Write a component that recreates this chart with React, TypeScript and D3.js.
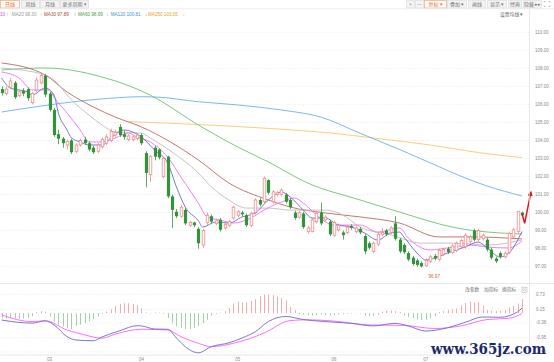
import React from "react";
import * as d3 from "d3";

// daily candles, index 0..119
const opens = [
  106.85, 106.6, 106.95, 107.2, 106.5, 106.75, 106.85, 106.1, 106.8, 107.2,
  107.6, 106.6, 105.7, 104.35, 104.1, 103.75, 104.0, 103.4, 103.75, 104.05,
  103.85, 103.6, 103.4, 103.65, 103.85, 104.0, 104.3, 104.75, 104.35, 104.05,
  104.05, 104.1, 104.3, 103.3, 102.1, 103.6, 103.5, 102.0, 103.1, 100.9,
  100.05, 99.8, 100.15, 99.3, 99.45, 99.1, 98.2, 99.45, 99.8, 99.4,
  99.6, 99.15, 99.3, 99.7, 99.85, 100.0, 99.85, 99.3, 100.0, 100.7,
  100.6, 101.8, 100.6, 101.0, 101.0, 101.0, 100.7, 100.0, 99.75, 99.95,
  98.95, 98.95, 99.5, 100.0, 99.6, 99.5, 98.75, 99.05, 98.9, 98.9,
  99.25, 98.95, 99.1, 98.7, 98.3, 97.85, 98.25, 98.8, 99.0, 98.9,
  99.4, 98.5, 98.2, 97.75, 97.5, 97.35, 97.2, 97.05, 97.3, 97.6,
  97.4, 97.7, 98.0, 97.8, 97.9, 98.1, 98.1, 98.4, 99.0, 98.5,
  98.55, 98.5, 97.95, 97.45, 97.75, 97.55, 97.8, 98.65, 98.95, 100.0,
];
const closes = [
  106.63, 106.85, 107.3, 106.4, 106.7, 106.6, 106.35, 106.6, 107.35, 107.6,
  106.55, 105.7, 104.3, 104.1, 103.85, 103.95, 103.35, 103.75, 104.0, 103.85,
  103.5, 103.35, 103.75, 104.05, 104.2, 104.5, 104.45, 104.3, 104.2, 104.25,
  104.2, 104.3, 103.85, 102.2, 103.1, 103.1, 103.05, 103.0, 100.9, 100.15,
  99.8, 100.3, 99.4, 99.45, 99.3, 98.3, 99.0, 99.85, 99.5, 99.55,
  99.05, 99.35, 99.5, 100.3, 100.05, 99.9, 99.3, 99.95, 100.7, 100.45,
  101.9, 101.1, 101.15, 101.1, 101.25, 100.6, 100.3, 99.7, 100.0, 99.2,
  99.15, 99.6, 99.95, 99.4, 99.75, 98.8, 99.45, 99.3, 98.75, 99.2,
  99.15, 99.15, 98.9, 97.85, 98.05, 98.3, 98.8, 98.9, 98.8, 99.15,
  98.55, 97.85, 97.8, 97.4, 97.15, 97.1, 97.02, 97.35, 97.55, 97.45,
  97.9, 97.95, 97.8, 98.15, 98.3, 98.45, 98.75, 98.65, 98.5, 99.0,
  98.75, 97.95, 97.5, 97.3, 97.55, 97.75, 98.85, 99.05, 100.05, 99.85,
];
const highs = [
  107.0, 107.0, 107.45, 107.3, 106.8, 106.9, 106.95, 106.7, 107.5, 107.75,
  107.7, 106.7, 105.8, 104.6, 104.2, 104.05, 104.1, 103.85, 104.1, 104.2,
  103.95, 103.7, 103.85, 104.15, 104.35, 104.65, 104.6, 104.9, 104.55, 104.35,
  104.3, 104.4, 104.4, 103.4, 103.2, 103.7, 103.55, 103.1, 103.15, 101.0,
  100.2, 100.45, 100.25, 99.55, 99.5, 99.2, 99.1, 100.0, 99.9, 99.65,
  99.7, 99.45, 99.6, 100.4, 100.15, 100.1, 99.95, 100.05, 100.8, 100.8,
  102.0, 101.85, 101.25, 101.2, 101.35, 101.1, 100.8, 100.1, 100.1, 100.05,
  99.25, 99.7, 100.05, 100.55, 99.85, 99.6, 99.55, 99.4, 99.0, 99.3,
  99.35, 99.25, 99.2, 98.8, 98.4, 98.4, 98.9, 99.15, 99.1, 99.25,
  99.8, 98.6, 98.3, 97.85, 97.6, 97.45, 97.3, 97.45, 97.65, 97.7,
  98.0, 98.05, 98.1, 98.25, 98.4, 98.55, 98.85, 98.75, 99.1, 99.1,
  98.85, 98.6, 98.05, 97.55, 97.85, 97.85, 98.95, 99.15, 100.1, 100.05,
];
const lows = [
  106.5, 106.5, 106.9, 106.3, 106.4, 106.45, 106.2, 106.0, 106.7, 107.1,
  106.4, 105.6, 104.2, 103.8, 103.6, 103.5, 103.25, 103.3, 103.65, 103.75,
  103.4, 103.25, 103.3, 103.55, 103.75, 103.9, 104.2, 104.2, 104.05, 103.95,
  103.95, 104.0, 103.75, 101.4, 101.7, 102.9, 102.95, 101.9, 100.8, 99.15,
  99.7, 99.7, 99.3, 99.2, 99.2, 98.0, 98.05, 99.3, 99.4, 99.3,
  98.95, 99.05, 99.2, 99.6, 99.75, 99.8, 99.2, 99.2, 99.9, 100.35,
  100.5, 101.0, 100.5, 100.9, 100.9, 100.5, 100.2, 99.6, 99.65, 99.1,
  98.85, 98.9, 99.4, 99.3, 99.5, 98.7, 98.65, 98.95, 98.5, 98.8,
  99.05, 98.85, 98.8, 97.7, 97.95, 97.75, 98.15, 98.7, 98.7, 98.8,
  98.45, 97.75, 97.7, 97.3, 97.05, 97.0, 96.97, 97.0, 97.2, 97.35,
  97.3, 97.6, 97.7, 97.7, 97.8, 98.0, 98.0, 98.3, 98.4, 98.4,
  98.45, 97.85, 97.4, 97.2, 97.45, 97.45, 97.7, 98.55, 98.85, 99.75,
];

// MACD histogram per candle
const macdHist = [
  -0.2, -0.2, -0.18, -0.2, -0.22, -0.2, -0.18, -0.12,
  0.04, 0.08, 0.06,
  -0.13, -0.32, -0.45, -0.51, -0.58, -0.62, -0.51, -0.45, -0.39, -0.32, -0.23, -0.13,
  -0.03, 0.06,
  0.15, 0.28, 0.36, 0.39, 0.39, 0.36, 0.32, 0.19, 0.03,
  -0.02, 0.03, 0.02, -0.03,
  -0.19, -0.39, -0.51, -0.58, -0.62, -0.62, -0.58, -0.51, -0.39, -0.26, -0.1,
  -0.03, 0.02,
  0.08, 0.2, 0.38, 0.45, 0.43, 0.42, 0.48, 0.55, 0.66, 0.72, 0.73, 0.7, 0.64, 0.6, 0.5, 0.25, 0.12,
  -0.04, -0.06, -0.08, -0.1, -0.08, -0.06, -0.08, -0.1, -0.08, -0.06, -0.04, -0.03, -0.02,
  0.01, -0.02,
  -0.1, -0.12, -0.1, -0.06,
  0.06, 0.1, 0.1, 0.08, 0.05,
  -0.08, -0.15, -0.2, -0.25, -0.27, -0.25, -0.2, -0.12,
  0.04, 0.08, 0.12, 0.15, 0.18,
  0.3, 0.4, 0.45, 0.42, 0.44, 0.3,
  0.12, 0.1, 0.08, 0.1, 0.12,
  0.22, 0.28, 0.38, 0.55,
];

// [day index, value]
const difPts = [
  [0, -0.27], [7, -0.39], [10, -0.3], [12, -0.46], [15, -0.92], [17, -1.05], [21, -1.08],
  [23, -0.93], [27, -0.69], [31, -0.49], [32, -0.5], [35, -0.62], [38, -0.63], [40, -0.97],
  [42, -1.31], [45, -1.55], [48, -1.31], [52, -1.16], [55, -0.97], [58, -0.73], [61, -0.33],
  [65, -0.13], [69, -0.25], [74, -0.33], [80, -0.4], [85, -0.5], [90, -0.4], [93, -0.5],
  [97, -0.7], [102, -0.57], [106, -0.36], [110, -0.15], [114, -0.16], [118, 0.05], [119, 0.2],
];
const deaPts = [
  [0, -0.07], [7, -0.33], [10, -0.3], [15, -0.66], [19, -0.85], [23, -0.98], [26, -0.82],
  [32, -0.63], [38, -0.66], [41, -0.92], [45, -1.18], [48, -1.31], [53, -1.18], [57, -0.98],
  [60, -0.78], [66, -0.29], [70, -0.26], [76, -0.31], [84, -0.46], [92, -0.48], [99, -0.6],
  [105, -0.5], [111, -0.25], [116, -0.2], [119, -0.02],
];

const ma5 = [
  [0, 107.47], [2, 106.91], [6, 106.69], [7, 106.52], [10, 106.91], [12, 106.52], [13, 105.52],
  [15, 104.58], [16, 104.14], [18, 103.92], [20, 103.75], [23, 103.75], [25, 104.14], [28, 104.58],
  [30, 104.47], [32, 104.19], [35, 103.47], [38, 102.75], [40, 101.42], [42, 100.31], [45, 99.55],
  [46, 99.2], [49, 99.48], [52, 99.42], [55, 99.76], [58, 99.98], [61, 100.7], [64, 101.14],
  [66, 100.87], [69, 100.14], [71, 99.7], [74, 99.7], [77, 99.31], [80, 99.2], [83, 98.87],
  [86, 98.48], [89, 98.87], [91, 98.92], [92, 98.65], [95, 97.76], [97, 97.37], [99, 97.48],
  [102, 97.76], [106, 98.09], [109, 98.37], [111, 98.04], [114, 97.54], [116, 97.76], [119, 98.95],
];
const ma10 = [
  [0, 107.8], [4, 107.47], [7, 106.8], [11, 106.8], [12, 106.41], [15, 105.52], [18, 104.58],
  [20, 103.92], [23, 103.92], [26, 104.14], [29, 104.41], [31, 104.19], [34, 103.92], [38, 103.08],
  [41, 101.98], [45, 100.53], [47, 99.76], [50, 99.59], [53, 99.42], [57, 99.7], [60, 100.14],
  [64, 100.59], [67, 100.81], [69, 100.53], [72, 99.87], [76, 99.31], [82, 99.31], [86, 98.92],
  [91, 99.15], [93, 98.59], [98, 97.93], [102, 98.04], [107, 98.2], [111, 98.09], [116, 98.04],
  [119, 98.42],
];
const ma20 = [
  [0, 108.02], [10, 107.63], [12, 107.35], [16, 106.25], [20, 105.41], [23, 104.86], [26, 104.47],
  [32, 104.41], [34, 104.14], [39, 103.36], [45, 102.2], [48, 101.42], [52, 100.7], [56, 100.25],
  [61, 100.25], [66, 100.14], [74, 100.14], [78, 99.87], [82, 99.2], [89, 98.76], [96, 98.31],
  [104, 98.31], [111, 98.2], [119, 98.48],
];
const ma30 = [
  [0, 108.3], [10, 107.63], [15, 106.69], [21, 105.86], [26, 105.3], [32, 104.75], [45, 102.92],
  [52, 101.64], [61, 100.7], [66, 100.31], [74, 99.98], [82, 99.76], [91, 99.42], [100, 98.65],
  [108, 98.65], [119, 98.54],
];
const ma60 = [
  [0, 107.91], [10, 108.02], [23, 107.52], [34, 106.52], [45, 104.86], [54, 103.64], [61, 102.81],
  [70, 101.64], [82, 100.7], [91, 100.03], [104, 99.15], [119, 98.81],
];
const ma120 = [
  [0, 105.58], [9, 105.91], [18, 106.19], [27, 106.38], [32, 106.43], [36, 106.4], [45, 106.15],
  [54, 105.97], [64, 105.69], [73, 105.3], [82, 104.4], [91, 103.5], [100, 102.55], [106, 101.92],
  [111, 101.48], [119, 100.92],
];
const ma250 = [
  [29, 105.05], [40, 104.94], [52, 104.8], [63, 104.64], [75, 104.42], [86, 104.11], [98, 103.75],
  [109, 103.33], [119, 103.05],
];

const priceTicks = [110, 109, 108, 107, 106, 105, 104, 103, 102, 101, 100, 99, 98, 97];
const macdTicks = [0.73, 0.15, -0.38, -0.95, -1.52];
const monthLabels = ["03", "04", "05", "06", "07"];
const monthIdx = [11, 32, 54, 76, 97];
const lowIdx = 96;
const lowValue = 96.97;
const trendArrow = [[119, 99.95], [119.6, 99.4], [121, 101.1]];

const periodTabs = ["日线", "周线", "月线", "更多周期 ▾"];
const toolButtons = ["+", "—", "复权 ▾", "叠加 ▾", "画线", "显示 ▾", "经典", "隐藏 ▸▸"];
const legendNames = ["MA20", "MA30", "MA60", "MA120", "MA250"];
const legendValues = ["98.30", "97.89", "98.69", "100.81", "103.05"];
const legendUp = [true, true, false, false, false];
const macdTools = ["改参数", "加指标", "换指标"];

const FONT = "'Liberation Sans', 'Noto Sans CJK SC', sans-serif";
const CJK = "'Noto Sans CJK SC', sans-serif";
const UP = "#f08a8a";
const DOWN = "#32933a";

const x = d3.scaleLinear().domain([0, 119]).range([1.5, 522]);
const yP = d3.scaleLinear().domain([97, 110]).range([266.7, 32.3]);
const yM = d3.scaleLinear().domain([-1.52, 0.73]).range([352, 294.5]);

const maLine = d3
  .line<number[]>()
  .x((d) => x(d[0]))
  .y((d) => yP(d[1]))
  .curve(d3.curveMonotoneX);
const macdLine = d3
  .line<number[]>()
  .x((d) => x(d[0]))
  .y((d) => yM(d[1]))
  .curve(d3.curveMonotoneX);

const maSeries = [
  { pts: ma250, color: "#f8c870" },
  { pts: ma120, color: "#6db0ea" },
  { pts: ma60, color: "#6ec06e" },
  { pts: ma30, color: "#b86a5e" },
  { pts: ma20, color: "#bdbdbd" },
  { pts: ma10, color: "#f070f0" },
  { pts: ma5, color: "#6a6ac8" },
];
const legendColors = ["#999999", "#b0463c", "#3f9f3f", "#3d8fdc", "#f0a020"];

// layout of the chrome (not data)
const tabX = [[0, 19], [21, 39], [40, 59], [60, 88]];
const toolX = [[406, 414], [415, 423], [424, 446], [447, 466], [468, 485], [487, 506], [508, 521], [523, 541]];
const legendX = [11.7, 44, 78, 110.7, 148];
const legendArrowX = [40, 74, 106, 144.7, 182.7];
const macdToolX = [465, 484, 502];

export default function App() {
  return (
    <svg
      width={554}
      height={362}
      style={{ position: "absolute", left: 0, top: 0, background: "#fff" }}
      fontFamily={FONT}
    >
      <defs>
        <clipPath id="mainClip">
          <rect x={0} y={9} width={529} height={274} />
        </clipPath>
        <clipPath id="subClip">
          <rect x={0} y={284} width={529} height={71} />
        </clipPath>
        <marker id="ah" viewBox="0 0 10 10" refX={6} refY={5} markerWidth={3.6} markerHeight={3.6} orient="auto">
          <path d="M0,0 L10,5 L0,10 z" fill="#e8161b" />
        </marker>
      </defs>

      {/* toolbar */}
      {periodTabs.map((t, i) => {
        const active = i === 0;
        return (
          <g key={t}>
            <rect
              x={tabX[i][0] + 0.5}
              y={0.5}
              width={tabX[i][1] - tabX[i][0]}
              height={7.5}
              fill={active ? "#fff" : "#f3f3f3"}
              stroke={active ? "#f2a67a" : "#dedede"}
              strokeWidth={0.7}
            />
            <text
              x={(tabX[i][0] + tabX[i][1]) / 2 + 0.5}
              y={6.1}
              textAnchor="middle"
              fontSize={5}
              fontFamily={CJK}
              fill={active ? "#e8692a" : "#777"}
            >
              {t}
            </text>
          </g>
        );
      })}
      {toolButtons.map((t, i) => {
        const active = i === 2;
        return (
          <g key={t}>
            <rect
              x={toolX[i][0] + 0.5}
              y={0.5}
              width={toolX[i][1] - toolX[i][0]}
              height={7.5}
              fill={active ? "#fff" : "#f3f3f3"}
              stroke={active ? "#f2a67a" : "#dedede"}
              strokeWidth={0.7}
            />
            <text
              x={(toolX[i][0] + toolX[i][1]) / 2 + 0.5}
              y={6.1}
              textAnchor="middle"
              fontSize={5}
              fontFamily={CJK}
              fill={active ? "#e8692a" : "#777"}
            >
              {t}
            </text>
          </g>
        );
      })}
      <g stroke="#999" strokeWidth={0.6} fill="none">
        <path d="M544,2.5 V1.5 H545.5 M548.5,1.5 H550 V2.5 M550,5.5 V6.5 H548.5 M545.5,6.5 H544 V5.5" />
      </g>
      <line x1={0} x2={554} y1={8.8} y2={8.8} stroke="#e2e2e2" strokeWidth={0.6} />

      {/* MA legend */}
      <text x={0} y={16} fontSize={4.6} fill="#e050e0">33</text>
      <text x={6} y={16} fontSize={4.6} fill="#e050e0">↑</text>
      {legendNames.map((nm, i) => (
        <g key={nm}>
          <text x={legendX[i]} y={16} fontSize={4.6} fill={legendColors[i]}>
            {nm} {legendValues[i]}
          </text>
          <text x={legendArrowX[i]} y={16} fontSize={4.6} fill={legendColors[i]}>
            {legendUp[i] ? "↑" : "↓"}
          </text>
        </g>
      ))}
      <text x={500} y={16} fontSize={4.8} fontFamily={CJK} fill="#666">设置均线 ▾</text>

      {/* price grid + axis */}
      {priceTicks.map((t) => (
        <g key={t}>
          <line
            x1={0}
            x2={529}
            y1={yP(t)}
            y2={yP(t)}
            stroke="#e8e8e8"
            strokeWidth={0.6}
            strokeDasharray="1.5,1.5"
          />
          <text x={535} y={yP(t) + 1.6} fontSize={4.5} fill="#8a8a8a">
            {t.toFixed(2)}
          </text>
        </g>
      ))}

      {/* moving averages */}
      <g clipPath="url(#mainClip)" fill="none" strokeWidth={0.9}>
        {maSeries.map((s, i) => (
          <path key={i} d={maLine(s.pts) || ""} stroke={s.color} />
        ))}
      </g>

      {/* candles */}
      <g clipPath="url(#mainClip)">
        {closes.map((c, i) => {
          const o = opens[i];
          const cx = Math.round(x(i)) + 0.5;
          const up = c >= o;
          const top = yP(Math.max(o, c));
          const bh = Math.max(yP(Math.min(o, c)) - top, 0.8);
          if (up) {
            return (
              <g key={i} stroke={UP} strokeWidth={0.8}>
                <line x1={cx} x2={cx} y1={yP(highs[i])} y2={top} />
                <line x1={cx} x2={cx} y1={top + bh} y2={yP(lows[i])} />
                <rect x={cx - 1.3} y={top} width={2.6} height={bh} fill="#fff" />
              </g>
            );
          }
          return (
            <g key={i}>
              <line x1={cx} x2={cx} y1={yP(highs[i])} y2={yP(lows[i])} stroke={DOWN} strokeWidth={0.8} />
              <rect x={cx - 1.6} y={top} width={3.2} height={bh} fill={DOWN} />
            </g>
          );
        })}
      </g>

      {/* lowest price mark */}
      <text x={x(lowIdx) + 2.5} y={yP(lowValue) + 10.5} fontSize={4.6} fill="#e8602c">
        ←96.97
      </text>

      {/* red trend arrow */}
      <path
        d={d3.line<number[]>().x((d) => x(d[0])).y((d) => yP(d[1]))(trendArrow) || ""}
        fill="none"
        stroke="#e8161b"
        strokeWidth={1.5}
        markerEnd="url(#ah)"
      />

      {/* MACD panel */}
      <line x1={0} x2={554} y1={283.5} y2={283.5} stroke="#dcdcdc" strokeWidth={0.7} />
      {macdTools.map((t, i) => (
        <text key={t} x={macdToolX[i]} y={291.3} fontSize={4.8} fontFamily={CJK} fill="#777">
          {t}
        </text>
      ))}
      <rect x={522} y={287.2} width={5} height={5} fill="#fff" stroke="#aaa" strokeWidth={0.5} />
      <path d="M523.2,288.4 L525.8,291 M525.8,288.4 L523.2,291" stroke="#999" strokeWidth={0.5} />
      {macdTicks.map((t) => (
        <g key={t}>
          <line
            x1={0}
            x2={529}
            y1={yM(t)}
            y2={yM(t)}
            stroke="#e8e8e8"
            strokeWidth={0.6}
            strokeDasharray="1.5,1.5"
          />
          <text x={536} y={yM(t) + 1.6} fontSize={4.5} fill="#8a8a8a">
            {t.toFixed(2)}
          </text>
        </g>
      ))}
      <g clipPath="url(#subClip)">
        {macdHist.map((v, i) => (
          <line
            key={i}
            x1={Math.round(x(i)) + 0.5}
            x2={Math.round(x(i)) + 0.5}
            y1={yM(0)}
            y2={yM(v)}
            stroke={v >= 0 ? "#f2a0a0" : "#98cc98"}
            strokeWidth={0.9}
          />
        ))}
        <path d={macdLine(deaPts) || ""} fill="none" stroke="#ff5cff" strokeWidth={0.9} />
        <path d={macdLine(difPts) || ""} fill="none" stroke="#6a6ac8" strokeWidth={0.9} />
      </g>

      {/* frame + x axis */}
      <line x1={529.5} x2={529.5} y1={9} y2={355} stroke="#e0e0e0" strokeWidth={0.7} />
      <line x1={0} x2={529.5} y1={355} y2={355} stroke="#dcdcdc" strokeWidth={0.7} />
      {monthLabels.map((m, i) => (
        <text key={m} x={x(monthIdx[i])} y={360.5} fontSize={4.5} textAnchor="middle" fill="#8a8a8a">
          {m}
        </text>
      ))}

      {/* watermark */}
      <text
        x={431}
        y={354}
        fontFamily="'DejaVu Serif', serif"
        fontWeight="bold"
        fontSize={15}
        fill="#1c2a6a"
        textLength={115}
        lengthAdjust="spacingAndGlyphs"
      >
        www.365jz.com
      </text>
    </svg>
  );
}
